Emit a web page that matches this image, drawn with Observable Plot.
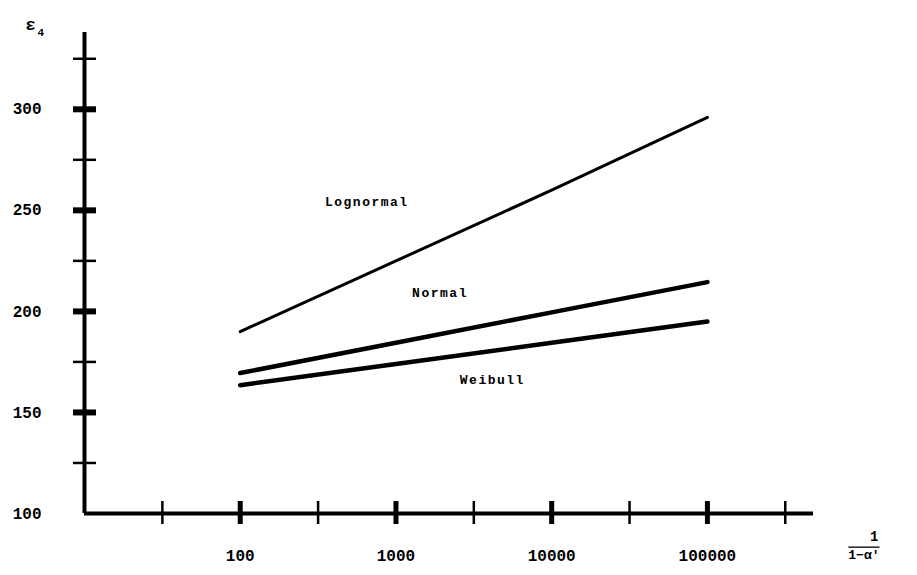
<!DOCTYPE html>
<html>
<head>
<meta charset="utf-8">
<script src="https://cdn.jsdelivr.net/npm/d3@7"></script>
<script src="https://cdn.jsdelivr.net/npm/@observablehq/plot@0.6"></script>
<style>
  html, body { margin: 0; padding: 0; background: #fff; }
  #chart svg { display: block; background: #fff; }
</style>
</head>
<body>
<div id="chart"></div>
<script>
// ---- data ----
const xValues = [100, 1000, 10000, 100000];
const lognormal = [190, 225, 260, 296];
const normal = [169.5, 184.5, 199.5, 214.5];
const weibull = [163.5, 174, 184.5, 195];

const seriesNames = ["Lognormal", "Normal", "Weibull"];
const seriesValues = [lognormal, normal, weibull];

// label anchors (data space)
const labelText = ["Lognormal", "Normal", "Weibull"];
const labelX = [350, 1270, 2570];
const labelY = [254, 209, 166];

// tick values
const yTickMajor = [150, 200, 250, 300];
const yTickMinor = [125, 175, 225, 275, 325];
const yTickLabels = [100, 150, 200, 250, 300];
const xTickMajor = [100, 1000, 10000, 100000];
const xTickMinor = [31.6228, 316.228, 3162.28, 31622.8, 316228];
const xTickLabels = ["100", "1000", "10000", "100000"];

const rows = [];
seriesNames.forEach((name, i) => {
  xValues.forEach((x, j) => rows.push({series: name, x, y: seriesValues[i][j]}));
});
const labels = labelText.map((t, i) => ({t, x: labelX[i], y: labelY[i]}));
const xLabelRows = xTickMajor.map((v, i) => ({x: v, t: xTickLabels[i]}));

const mono = "Liberation Mono, DejaVu Sans Mono, monospace";

const plot = Plot.plot({
  width: 917,
  height: 575,
  marginLeft: 84,
  marginRight: 104,
  marginTop: 32,
  marginBottom: 62,
  style: {background: "#fff", color: "#000", fontFamily: mono},
  x: {type: "log", domain: [10, 480000], label: null},
  y: {domain: [100, 338], label: null},
  marks: [
    // series
    Plot.line(rows.filter(d => d.series === "Lognormal"), {x: "x", y: "y", stroke: "#000", strokeWidth: 3, strokeLinecap: "round"}),
    Plot.line(rows.filter(d => d.series === "Normal"), {x: "x", y: "y", stroke: "#000", strokeWidth: 4.5, strokeLinecap: "round"}),
    Plot.line(rows.filter(d => d.series === "Weibull"), {x: "x", y: "y", stroke: "#000", strokeWidth: 4.5, strokeLinecap: "round"}),
    // y ticks
    Plot.axisY(yTickMinor, {anchor: "left", tickSize: 23, dx: 12, strokeWidth: 2.5, tickFormat: () => "", label: null}),
    Plot.axisY(yTickMajor, {anchor: "left", tickSize: 23, dx: 12, strokeWidth: 6, tickFormat: () => "", label: null}),
    Plot.axisY(yTickLabels, {anchor: "left", tickSize: 0, tickPadding: 43, fontSize: 16, fontWeight: "bold", fontFamily: mono, tickFormat: d => String(d), label: null}),
    // x ticks
    Plot.axisX(xTickMinor, {anchor: "bottom", tickSize: 23, dy: -12, strokeWidth: 2.5, tickFormat: () => "", label: null}),
    Plot.axisX(xTickMajor, {anchor: "bottom", tickSize: 23, dy: -12, strokeWidth: 5, tickFormat: () => "", label: null}),
    // x tick labels
    Plot.text(xLabelRows, {x: "x", text: "t", frameAnchor: "bottom", dy: 47, fontSize: 16, fontWeight: "bold", fontFamily: mono, fill: "#000"}),
    // axis lines
    Plot.ruleY([100], {stroke: "#000", strokeWidth: 4}),
    Plot.ruleX([10], {stroke: "#000", strokeWidth: 4}),
    // series labels
    Plot.text(labels, {x: "x", y: "y", text: "t", textAnchor: "start", fontSize: 13, fontWeight: "bold", fontFamily: mono, fill: "#000"}),
    // axis titles
    Plot.text(["ε"], {frameAnchor: "top-left", dx: -59, dy: -15, fontSize: 17, fontWeight: "bold", fill: "#000"}),
    Plot.text(["4"], {frameAnchor: "top-left", dx: -47, dy: -4, fontSize: 11, fontWeight: "bold", fill: "#000"}),
    Plot.text(["1"], {frameAnchor: "bottom-right", dx: 65, dy: 27, fontSize: 14, fontWeight: "bold", fontFamily: mono, fill: "#000"}),
    Plot.text(["1−α'"], {frameAnchor: "bottom-right", dx: 66, dy: 45, fontSize: 13, fontWeight: "bold", fontFamily: mono, fill: "#000"})
  ]
});

d3.select(plot).selectAll("text")
  .filter(function() { return this.textContent === "1−α'"; })
  .style("text-decoration", "overline");
d3.select(plot).selectAll("text").style("letter-spacing", function() {
  return labelText.includes(this.textContent) ? "1.5px" : null;
});

document.getElementById("chart").appendChild(plot);
</script>
</body>
</html>
